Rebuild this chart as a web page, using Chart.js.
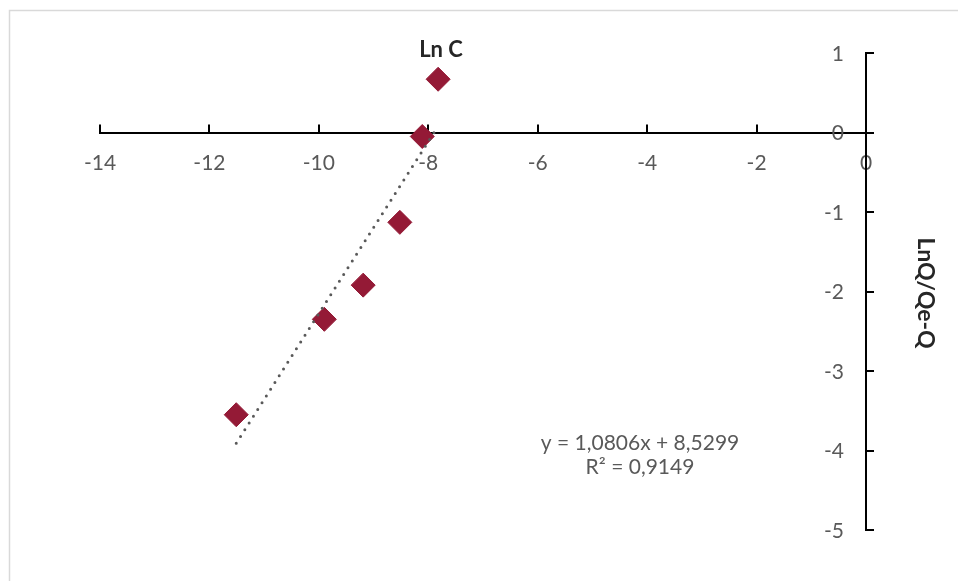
<!DOCTYPE html>
<html>
<head>
<meta charset="utf-8">
<script src="https://cdn.jsdelivr.net/npm/chart.js@4"></script>
<style>
  html, body { margin: 0; padding: 0; background: #fff; }
  #wrap { position: relative; width: 958px; height: 581px; }
</style>
</head>
<body>
<div id="wrap"><canvas id="chart-lnc" width="958" height="581"></canvas></div>
<script>
// data
const lnC = [-11.51, -9.90, -9.19, -8.52, -8.11, -7.82];
const lnQ = [-3.55, -2.35, -1.92, -1.13, -0.05, 0.67];
// trendline as printed on the chart
const trendSlope = 1.0806;
const trendIntercept = 8.5299;
const trendR2 = 0.9149;
const xRange = [-14, 0];
const yRange = [-5, 1];
const xStep = 2;
const yStep = 1;

const FONT = "Lato, 'Open Sans', sans-serif";
const fmt = v => v.toFixed(4).replace(".", ",");

const points = lnC.map((x, i) => ({ x: x, y: lnQ[i] }));
const xMin = Math.min(...lnC), xMax = Math.max(...lnC);
const trend = [
    { x: xMin, y: trendSlope * xMin + trendIntercept },
    { x: xMax, y: trendSlope * xMax + trendIntercept }
];

const decor = {
    id: "decor",
    beforeDraw(chart) {
        const ctx = chart.ctx;
        ctx.save();
        ctx.fillStyle = "#fff";
        ctx.fillRect(0, 0, chart.width, chart.height);
        // outer frame (only top / left are visible)
        ctx.strokeStyle = "#d9d9d9";
        ctx.lineWidth = 1.5;
        ctx.beginPath();
        ctx.moveTo(9.5, chart.height + 5);
        ctx.lineTo(9.5, 10.5);
        ctx.lineTo(chart.width + 5, 10.5);
        ctx.stroke();
        ctx.restore();
    },
    beforeDatasetsDraw(chart) {
        // tick marks: x ticks point up, y ticks point right
        const { ctx, scales: { x, y } } = chart;
        const y0 = y.getPixelForValue(0);
        const x0 = x.getPixelForValue(0);
        ctx.save();
        ctx.strokeStyle = "#000";
        ctx.lineWidth = 2;
        ctx.beginPath();
        x.ticks.forEach(t => {
            const px = Math.round(x.getPixelForValue(t.value));
            ctx.moveTo(px, y0);
            ctx.lineTo(px, y0 - 8);
        });
        y.ticks.forEach(t => {
            const py = Math.round(y.getPixelForValue(t.value));
            ctx.moveTo(x0, py);
            ctx.lineTo(x0 + 8, py);
        });
        ctx.stroke();

        // y tick labels, left of the axis
        ctx.fillStyle = "#595959";
        ctx.font = "21px " + FONT;
        ctx.textAlign = "right";
        ctx.textBaseline = "middle";
        y.ticks.forEach(t => {
            ctx.fillText(String(t.value), x0 - 22, y.getPixelForValue(t.value) + 1);
        });
        ctx.restore();
    },
    afterDraw(chart) {
        const ctx = chart.ctx;
        ctx.save();
        ctx.fillStyle = "#262626";
        ctx.font = "bold 22px " + FONT;
        ctx.textAlign = "center";
        ctx.textBaseline = "middle";
        ctx.fillText("Ln C", 441, 50);

        ctx.font = "bold 23px " + FONT;
        ctx.translate(925, 293);
        ctx.rotate(Math.PI / 2);
        ctx.fillText("LnQ/Qe-Q", 0, 0);
        ctx.setTransform(1, 0, 0, 1, 0, 0);

        ctx.fillStyle = "#595959";
        ctx.font = "21px " + FONT;
        ctx.fillText("y = " + fmt(trendSlope) + "x + " + fmt(trendIntercept), 640, 443);
        ctx.fillText("R² = " + fmt(trendR2), 640, 467);
        ctx.restore();
    }
};

new Chart(document.getElementById("chart-lnc"), {
    type: "scatter",
    data: {
        datasets: [
            {
                label: "trend",
                data: trend,
                showLine: true,
                borderColor: "#595959",
                borderWidth: 3,
                borderDash: [0, 8],
                borderCapStyle: "round",
                pointRadius: 0,
                order: 0
            },
            {
                label: "LnQ/Qe-Q",
                data: points,
                pointStyle: "rectRot",
                pointRadius: 12,
                pointHoverRadius: 12,
                backgroundColor: "#941a36",
                borderColor: "#941a36",
                borderWidth: 1,
                order: 1
            }
        ]
    },
    options: {
        responsive: false,
        animation: false,
        events: [],
        layout: { padding: { left: 100, right: 92, top: 53, bottom: 51 } },
        plugins: {
            legend: { display: false },
            tooltip: { enabled: false }
        },
        scales: {
            x: {
                type: "linear",
                position: { y: 0 },
                min: xRange[0],
                max: xRange[1],
                ticks: {
                    stepSize: xStep,
                    color: "#595959",
                    font: { family: FONT, size: 21 },
                    padding: 18,
                    maxRotation: 0
                },
                grid: { display: true, drawOnChartArea: false, drawTicks: false },
                border: { display: true, color: "#000", width: 2 }
            },
            y: {
                type: "linear",
                position: { x: 0 },
                min: yRange[0],
                max: yRange[1],
                ticks: {
                    stepSize: yStep,
                    display: false
                },
                grid: { display: true, drawOnChartArea: false, drawTicks: false },
                border: { display: true, color: "#000", width: 2 }
            }
        }
    },
    plugins: [decor]
});
</script>
</body>
</html>
